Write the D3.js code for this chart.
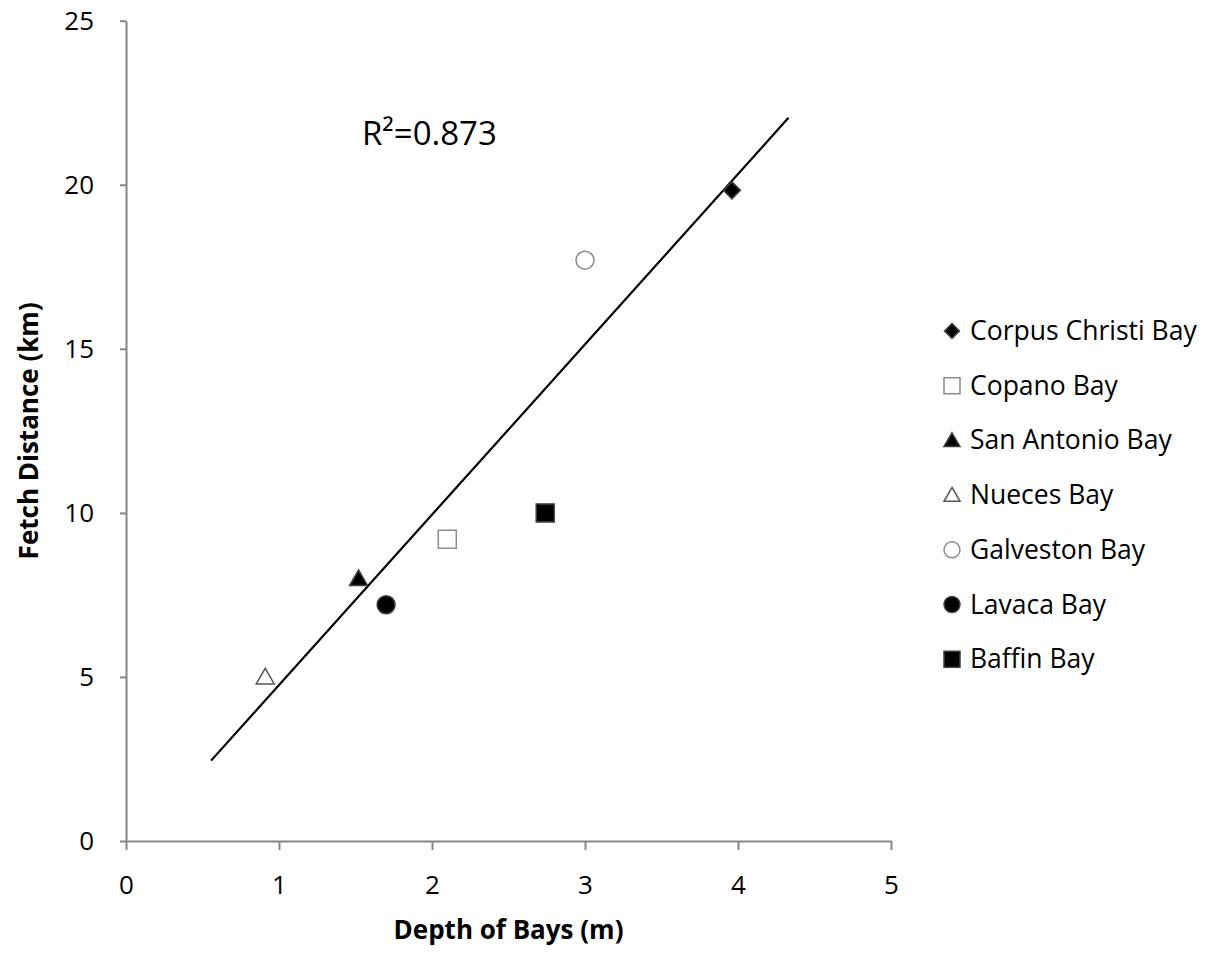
<!DOCTYPE html>
<html>
<head>
<meta charset="utf-8">
<script src="https://cdn.jsdelivr.net/npm/d3@7"></script>
<style>
  body { margin: 0; background: #fff; }
  svg text { font-family: "Open Sans", "Noto Sans", sans-serif; fill: #000; }
</style>
</head>
<body>
<script>
// size of the svg and the plot box
var w = 1222;
var h = 974;
var plotLeft = 126, plotRight = 891, plotTop = 20.7, plotBottom = 841;

// bays and their measurements
var bays = ["Corpus Christi Bay", "Copano Bay", "San Antonio Bay", "Nueces Bay",
            "Galveston Bay", "Lavaca Bay", "Baffin Bay"];
var depth = [3.96, 2.10, 1.52, 0.91, 3.00, 1.70, 2.74];
var fetch = [19.83, 9.2, 8.0, 5.0, 17.7, 7.2, 10.0];

// marker style per bay
var shapes = ["diamond", "square", "triangle", "triangle", "circle", "circle", "square"];
var filled = [true, false, true, false, false, true, true];

// trend line end points
var trendX = [0.556, 4.33];
var trendY = [2.45, 22.04];

var xTicks = [0, 1, 2, 3, 4, 5];
var yTicks = [0, 5, 10, 15, 20, 25];

var svg = d3.select("body")
            .append("svg")
            .attr("width", w)
            .attr("height", h);

var xScale = d3.scaleLinear().domain([0, 5]).range([plotLeft, plotRight]);
var yScale = d3.scaleLinear().domain([0, 25]).range([plotBottom, plotTop]);

// returns a d3 symbol path for a shape name and pixel size
function markerPath(shape, size) {
  var type = d3.symbolSquare;
  var area = size * size;
  if (shape == "circle") {
    type = d3.symbolCircle;
    area = Math.PI * size * size / 4;
  } else if (shape == "triangle") {
    type = d3.symbolTriangle;
    area = size * size * Math.sqrt(3) / 4;
  } else if (shape == "diamond") {
    area = size * size / 2;
  }
  return d3.symbol().type(type).size(area)();
}

function drawMarker(g, i, size) {
  var fill = filled[i] ? "#000" : "#fff";
  var stroke = filled[i] ? "#404040" : (shapes[i] == "triangle" ? "#555" : "#8c8c8c");
  var rot = shapes[i] == "diamond" ? " rotate(45)" : "";
  var dy = shapes[i] == "triangle" ? size * 0.1 : 0;
  g.append("path")
   .attr("d", markerPath(shapes[i], size))
   .attr("transform", "translate(0," + dy + ")" + rot)
   .attr("fill", fill)
   .attr("stroke", stroke)
   .attr("stroke-width", 1.5);
}

// y axis
var yAxis = svg.append("g")
   .attr("transform", "translate(" + plotLeft + ",0)")
   .call(d3.axisLeft(yScale).tickValues(yTicks).tickFormat(d3.format("d"))
           .tickSize(6).tickPadding(26).tickSizeOuter(0));

// x axis
var xAxis = svg.append("g")
   .attr("transform", "translate(0," + plotBottom + ")")
   .call(d3.axisBottom(xScale).tickValues(xTicks).tickFormat(d3.format("d"))
           .tickSize(9).tickPadding(26).tickSizeOuter(0));

[xAxis, yAxis].forEach(function(a) {
  a.select(".domain").attr("stroke", "#868686").attr("stroke-width", 2);
  a.selectAll(".tick line").attr("stroke", "#868686").attr("stroke-width", 2);
  a.selectAll(".tick text").style("font-size", "26px").attr("fill", "#000");
});

// trend line
svg.append("line")
   .attr("x1", xScale(trendX[0]))
   .attr("y1", yScale(trendY[0]))
   .attr("x2", xScale(trendX[1]))
   .attr("y2", yScale(trendY[1]))
   .attr("stroke", "#000")
   .attr("stroke-width", 2.2);

// points
for (var i = 0; i < bays.length; i++) {
  var g = svg.append("g")
     .attr("transform", "translate(" + xScale(depth[i]) + "," + yScale(fetch[i]) + ")");
  var sz = shapes[i] == "diamond" ? 17 : 18;
  drawMarker(g, i, sz);
}

// r squared label
svg.append("text")
   .attr("x", 362)
   .attr("y", 145)
   .style("font-size", "33px")
   .text("R\u00b2=0.873");

// axis titles
svg.append("text")
   .attr("x", (plotLeft + plotRight) / 2)
   .attr("y", 939)
   .attr("text-anchor", "middle")
   .style("font-size", "26px")
   .style("font-weight", "bold")
   .text("Depth of Bays (m)");

svg.append("text")
   .attr("transform", "rotate(-90)")
   .attr("x", -(plotTop + plotBottom) / 2)
   .attr("y", 38)
   .attr("text-anchor", "middle")
   .style("font-size", "26px")
   .style("font-weight", "bold")
   .text("Fetch Distance (km)");

// legend
var legend = svg.append("g").attr("transform", "translate(952,331)");
for (var j = 0; j < bays.length; j++) {
  var row = legend.append("g").attr("transform", "translate(0," + j * 54.7 + ")");
  drawMarker(row, j, shapes[j] == "diamond" ? 15 : 16);
  row.append("text")
     .attr("x", 18)
     .attr("y", 9)
     .style("font-size", "26.5px")
     .text(bays[j]);
}
</script>
</body>
</html>
